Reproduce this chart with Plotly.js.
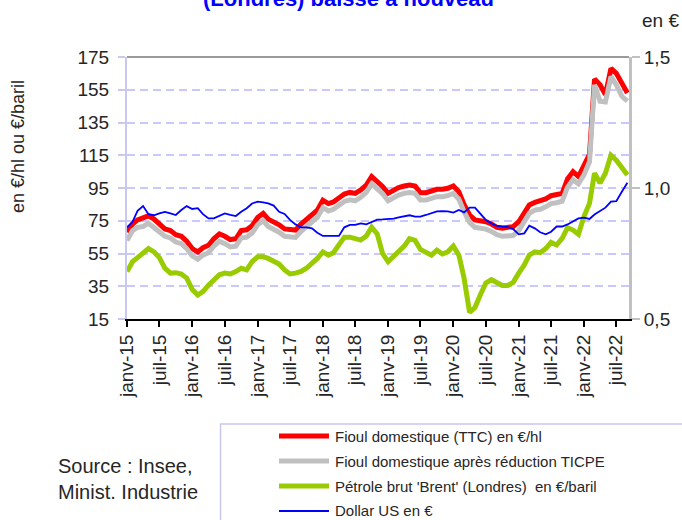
<!DOCTYPE html>
<html><head><meta charset="utf-8">
<script src="https://cdn.plot.ly/plotly-3.0.1.min.js"></script>
<style>html,body{margin:0;padding:0;background:#fff;}#chart{width:682px;height:520px;}</style>
</head><body><div id="chart"></div>
<script>
// ---- data (monthly, janv-15 .. sept-22) ----
const startYear = 2015;
const tickLabels = ['janv-15','juil-15','janv-16','juil-16','janv-17','juil-17','janv-18','juil-18',
                    'janv-19','juil-19','janv-20','juil-20','janv-21','juil-21','janv-22','juil-22'];
const seriesNames = ['Fioul domestique (TTC) en €/hl',
                     'Fioul domestique après réduction TICPE',
                     "Pétrole brut 'Brent' (Londres)  en €/baril",
                     'Dollar US en €'];
const fioulTTC = [68,73,75.5,76.5,78,76,72.5,70,69,66.5,
  65.5,62.5,58,56,58.5,60,64,67,65.5,63.5,
  64,69,69.5,72,77,79.5,76,74.5,72.5,70,
  69.3,69.3,73,75.5,78.5,81.5,87.5,85.5,86.5,88.5,
  91.3,92.3,91.7,93.8,96.8,102,99,96,91.7,93.8,
  95.2,96.2,96.8,96.2,92.1,92.1,93.4,94.2,94.2,94.8,
  96.2,92.7,85,78.5,75.5,75,74.4,73,71,70.5,
  71,71.4,74.4,79.5,84.6,86.2,87,88.3,90.3,90.7,
  91.7,100.5,105,102,108,115.5,161.5,158,152,168,
  165,159,153];
const fioulTICPE = [63,69,71,71.5,73.5,71,68,65.5,64.5,62,
  61,58,53.5,51.5,54,55.5,59.5,62.5,61,59,
  59.5,64.5,65,67.5,72.5,75,71.5,70,68,65.5,
  64.8,64.8,68.5,71,74,77,83,81,82,84,
  86.8,87.8,87.2,89.3,92.3,97.5,94.5,91.5,87.2,89.3,
  90.7,91.7,92.3,91.7,87.6,87.6,88.9,89.7,89.7,90.3,
  91.7,88.2,80.5,74,71,70.5,69.9,68.5,66.5,65.5,
  65.5,66,69,74.5,79.5,81.5,82,83.5,85.5,86,
  87,95.5,100,97.5,103,111,158,148,147.5,163,
  158,151,148];
const brent = [44,50,52.5,55.5,58,56,52.5,46,43,43.3,
  42.5,40,33,29.6,31.7,35.7,38.8,42,43,42.5,
  44,46,45,50,53,53,52,50.6,48.6,45,
  42.5,43,44,46,48.6,52,56,54,55.5,61,
  65,65,64.2,63.2,65.7,71,67,55,50,53.5,
  56.5,59.5,64,63,57.5,56,54,57,54.7,56,
  59.5,54,40,19,22,30,37,39,37,35.5,
  35.5,37.4,43,48,54,56,55.5,58,61.8,60.2,
  64.2,70.8,69.3,66.7,77.5,85.6,104,98,104,115,
  112,107,103];
const dollarEUR = [0.85,0.871,0.913,0.931,0.90,0.896,0.903,0.909,0.903,0.897,
  0.916,0.931,0.92,0.923,0.90,0.884,0.884,0.893,0.903,0.897,
  0.893,0.909,0.923,0.941,0.948,0.945,0.941,0.933,0.909,0.901,
  0.878,0.861,0.85,0.85,0.846,0.829,0.817,0.817,0.817,0.817,
  0.85,0.859,0.859,0.865,0.861,0.871,0.879,0.88,0.881,0.883,
  0.888,0.893,0.896,0.891,0.891,0.897,0.903,0.911,0.912,0.911,
  0.906,0.916,0.907,0.925,0.925,0.903,0.878,0.865,0.855,0.853,
  0.851,0.843,0.823,0.827,0.856,0.846,0.831,0.823,0.833,0.853,
  0.853,0.861,0.874,0.884,0.887,0.882,0.899,0.912,0.925,0.948,
  0.95,0.986,1.02];

// ---- helpers ----
function monthDate(i){
  const y = startYear + Math.floor(i/12), m = i % 12 + 1;
  return y + '-' + String(m).padStart(2,'0') + '-01';
}
const months = fioulTTC.map((_, i) => monthDate(i));
const tickVals = tickLabels.map((_, i) => monthDate(i*6));

const W = 682, H = 520, L = 127, R = 629, T = 57, B = 319;
const px = x => (x - L) / (R - L);
const py = y => (B - y) / (B - T);
const FONT = 'Arial, "Liberation Sans", sans-serif';
const TXT = '#262626';

const colors = ['#ff0000', '#c0c0c0', '#99cc00', '#0000ff'];
const widths = [5, 5, 5, 1.8];

const traces = [
  {x: months, y: fioulTTC, name: seriesNames[0], type: 'scatter', mode: 'lines',
   line: {color: colors[0], width: widths[0]}},
  {x: months, y: fioulTICPE, name: seriesNames[1], type: 'scatter', mode: 'lines',
   line: {color: colors[1], width: widths[1]}},
  {x: months, y: brent, name: seriesNames[2], type: 'scatter', mode: 'lines',
   line: {color: colors[2], width: widths[2]}},
  {x: months, y: dollarEUR, name: seriesNames[3], type: 'scatter', mode: 'lines', yaxis: 'y2',
   line: {color: colors[3], width: widths[3]}}
];

// manual legend
const shapes = [
  {type: 'line', xref: 'paper', yref: 'paper', x0: 0, x1: 1, y0: 1, y1: 1,
   line: {color: '#9a9a9a', width: 2}},
  {type: 'rect', xref: 'paper', yref: 'paper', x0: px(220.5), x1: px(700), y0: py(540), y1: py(424),
   line: {color: '#c8c8f0', width: 1.5}, fillcolor: 'rgba(0,0,0,0)'}
];
const annotations = [
  {text: '<b>(Londres) baisse à nouveau</b>', xref: 'paper', yref: 'paper', x: px(348), y: py(13),
   xanchor: 'center', yanchor: 'bottom', showarrow: false, font: {family: FONT, size: 22, color: '#0000ff'}},
  {text: 'en €', xref: 'paper', yref: 'paper', x: px(640), y: py(20), xanchor: 'left', yanchor: 'middle',
   showarrow: false, font: {family: FONT, size: 19, color: TXT}},
  {text: 'en €/hl ou €/baril', xref: 'paper', yref: 'paper', x: px(18), y: py(147), textangle: -90,
   xanchor: 'center', yanchor: 'middle', showarrow: false, font: {family: FONT, size: 18, color: TXT}},
  {text: 'Source : Insee,<br>Minist. Industrie', xref: 'paper', yref: 'paper', x: px(56), y: py(479),
   xanchor: 'left', yanchor: 'middle', align: 'left', showarrow: false, font: {family: FONT, size: 20, color: TXT}}
];
seriesNames.forEach((nm, i) => {
  const yy = 436 + i * 25;
  shapes.push({type: 'line', xref: 'paper', yref: 'paper', x0: px(279), x1: px(329), y0: py(yy), y1: py(yy),
    line: {color: colors[i], width: i === 3 ? 2 : 5}});
  annotations.push({text: nm, xref: 'paper', yref: 'paper', x: px(333), y: py(yy), xanchor: 'left', yanchor: 'middle',
    showarrow: false, font: {family: FONT, size: 15, color: TXT}});
});

const layout = {
  width: W, height: H,
  margin: {l: L, r: W - R, t: T, b: H - B, pad: 0},
  paper_bgcolor: '#ffffff', plot_bgcolor: '#ffffff',
  separators: ', ',
  showlegend: false,
  font: {family: FONT, color: TXT},
  xaxis: {type: 'date', range: ['2015-01-01', '2022-09-10'], tickvals: tickVals, ticktext: tickLabels,
    tickangle: -90, ticks: 'outside', ticklen: 6, tickwidth: 2, tickcolor: '#000',
    showline: true, linecolor: '#000', linewidth: 2, showgrid: false, zeroline: false,
    tickfont: {family: FONT, size: 19, color: TXT}},
  yaxis: {range: [15, 175], tickvals: [15,35,55,75,95,115,135,155,175], ticks: 'outside', ticklen: 7,
    tickwidth: 2, tickcolor: '#c8c8f0', showline: true, linecolor: '#c8c8f0', linewidth: 2,
    ticklabelstandoff: 5,
    showgrid: true, gridcolor: '#c8c8ff', gridwidth: 2, griddash: '8px,5px', zeroline: false,
    tickfont: {family: FONT, size: 19, color: TXT}},
  yaxis2: {overlaying: 'y', side: 'right', range: [0.5, 1.5], tickvals: [0.5, 1, 1.5], tickformat: '.1f',
    ticks: 'outside', ticklen: 8, tickwidth: 2, tickcolor: '#c0c0c0', showline: true, linecolor: '#c0c0c0',
    linewidth: 3, showgrid: false, zeroline: false, tickfont: {family: FONT, size: 19, color: TXT}},
  shapes: shapes,
  annotations: annotations
};

Plotly.newPlot('chart', traces, layout, {staticPlot: true, displayModeBar: false});
</script>
</body></html>
